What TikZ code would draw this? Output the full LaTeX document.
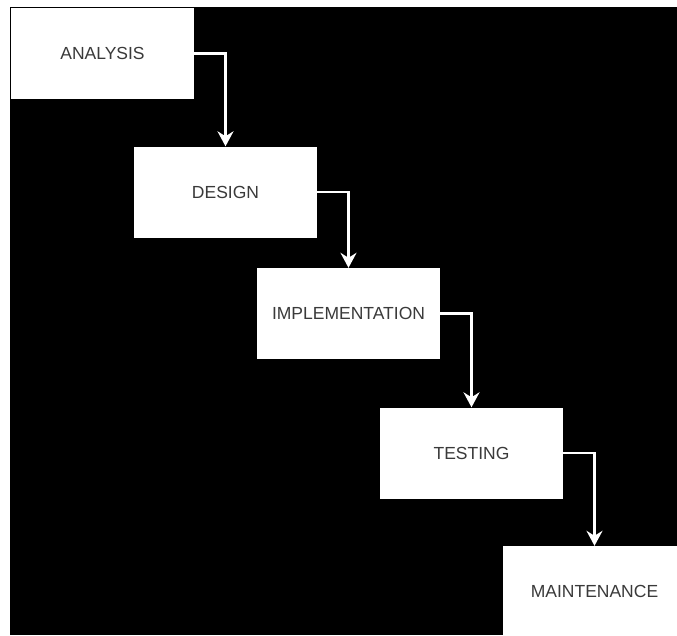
\documentclass[tikz,border=0pt]{standalone}
\usepackage{fontspec}
\setmainfont{Liberation Sans}
\usetikzlibrary{arrows.meta}
\definecolor{txt}{HTML}{3A3A3A}
\tikzset{
  stage/.style={fill=white, minimum width=183pt, minimum height=91pt, inner sep=0pt,
    text=txt, font=\fontsize{17.5}{20}\selectfont},
  flow/.style={draw=white, line width=2.4pt, -{Stealth[length=15pt,width=16pt,inset=5pt]}}
}
\begin{document}
\begin{tikzpicture}[x=1pt,y=-1pt]
\useasboundingbox (0,0) rectangle (677,635);
\fill[white] (0,0) rectangle (677,635);
\fill[black] (10,7) rectangle (677,635);
\node[stage] (A) at (102.5,53.5) {ANALYSIS};
\node[stage] (D) at (225.5,192) {DESIGN};
\node[stage] (I) at (348.5,313.5) {IMPLEMENTATION};
\node[stage] (T) at (471.5,453) {TESTING};
\node[stage] (M) at (594.5,591.5) {MAINTENANCE};
\draw[flow] (A.east) -| (D.north);
\draw[flow] (D.east) -| (I.north);
\draw[flow] (I.east) -| (T.north);
\draw[flow] (T.east) -| (M.north);
\end{tikzpicture}
\end{document}
